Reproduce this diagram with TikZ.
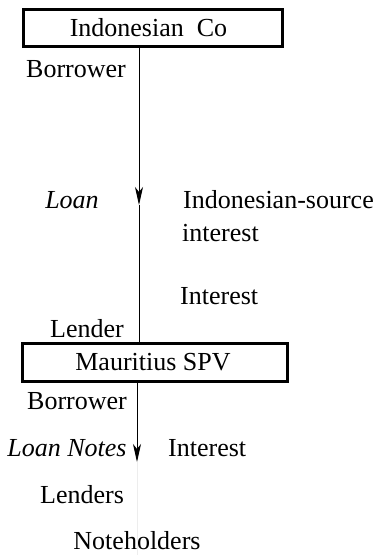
\documentclass[tikz,border=0pt]{standalone}
\usepackage{fontspec}
\setmainfont{Liberation Serif}
\usetikzlibrary{arrows.meta}

\begin{document}
\begin{tikzpicture}[x=1pt,y=-1pt,font=\fontsize{26}{30}\selectfont,
  party/.style={draw,line width=3pt,inner sep=0pt},
  lbl/.style={inner sep=0pt},
  flow/.style={line width=1pt,-{Stealth[length=18pt,width=8pt,inset=5pt]}}]
\useasboundingbox (0,0) rectangle (376,555);
% entities
\node[party,minimum width=259pt,minimum height=37pt] (co) at (153,28) {Indonesian\ \ Co\hspace*{9pt}};
\node[party,minimum width=265pt,minimum height=38pt] (spv) at (155,362.5) {Mauritius SPV\hspace*{4pt}};
% flows
\coordinate (m1) at (139,205);
\coordinate (m2) at (137,462);
\coordinate (tail) at (137,555);
\draw[flow] (co.south -| m1) -- (m1);
\draw[line width=1pt] (m1) -- (spv.north -| m1);
\draw[flow] (spv.south -| m2) -- (m2);
\draw[black!7,line width=0.8pt] (m2) -- (tail);
% labels
\node[lbl] (bor1) at (76,69) {Borrower};
\node[lbl] (loan) at (72,200) {\itshape Loan};
\node[lbl,anchor=west] (src) at (183,200) {Indonesian-source};
\node[lbl,anchor=west] (int1) at (182,233) {interest};
\node[lbl,anchor=west] (int2) at (180,296) {Interest};
\node[lbl] (lend) at (87,329) {Lender};
\node[lbl] (bor2) at (77,401) {Borrower};
\node[lbl] (notes) at (67,448) {\itshape Loan Notes};
\node[lbl,anchor=west] (int3) at (168,448) {Interest};
\node[lbl] (lends) at (82,495) {Lenders};
\node[lbl] (holders) at (137,541) {Noteholders};
\end{tikzpicture}
\end{document}
